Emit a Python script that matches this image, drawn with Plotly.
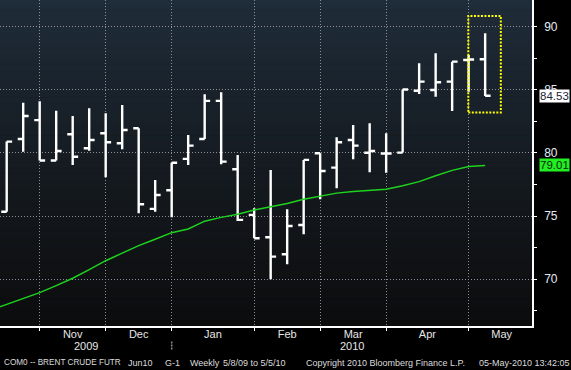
import plotly.graph_objects as go

# ---------------- data (weekly bars, index 0 = last week of Oct 2009) ----------------
weeks = list(range(30))
opens = [75.35, 81.10, 82.60, 79.40, 81.48, 80.37, 81.56, 80.77, 81.96, 75.57,
         77.05, 79.53, 81.10, 84.12, 78.71, 75.10, 73.33, 71.98, 74.30, 79.98,
         78.84, 81.03, 80.02, 79.96, 80.03, 84.93, 84.99, 85.65, 87.36, 87.42]
highs = [80.90, 83.98, 84.10, 83.35, 82.93, 83.54, 83.14, 83.80, 81.96, 77.86,
         79.23, 81.43, 84.65, 84.81, 79.84, 75.62, 78.65, 75.54, 79.45, 79.98,
         81.24, 82.22, 82.35, 81.56, 85.03, 87.10, 87.90, 87.23, 87.76, 89.48]
lows = [75.35, 80.10, 79.40, 79.40, 79.05, 80.18, 78.08, 80.30, 75.23, 75.35,
        74.91, 79.05, 81.10, 79.10, 74.62, 73.25, 70.00, 71.19, 73.56, 76.33,
        77.21, 79.50, 78.47, 78.44, 80.03, 84.67, 84.46, 83.33, 84.85, 84.50]
closes = [80.90, 82.93, 79.40, 80.16, 79.70, 81.03, 80.85, 81.82, 75.94, 76.67,
          79.23, 80.58, 84.12, 79.31, 74.70, 73.25, 71.79, 74.22, 79.45, 78.57,
          80.85, 80.58, 80.16, 79.96, 85.03, 85.65, 85.60, 87.23, 87.40, 84.53]

ma_weeks = list(range(-1, 30))
ma_vals = [67.55, 68.02, 68.49, 68.94, 69.50, 70.08, 70.77, 71.47, 72.07, 72.66,
           73.17, 73.69, 73.98, 74.60, 74.90, 75.15, 75.49, 75.75, 76.00, 76.33,
           76.60, 76.82, 76.95, 77.05, 77.13, 77.40, 77.73, 78.20, 78.62, 78.92, 79.01]

month_start_weeks = [2, 6, 10, 15, 19, 23, 28]
month_mid_weeks = [4, 8, 12.5, 17, 21, 25.5, 30]
month_labels = ["Nov", "Dec", "Jan", "Feb", "Mar", "Apr", "May"]
year_labels = ["2009", "2010"]
year_weeks = [4.8, 20.9]
year_break_week = 10
y_ticks = [70, 75, 80, 85, 90]
last_close = 84.53
last_ma = 79.01
highlight_weeks = [28, 29]

# ---------------- geometry ----------------
W, H = 571, 370
ML, MR, MT, MB = 0, 39, 0, 44
PW, PH = W - ML - MR, H - MT - MB
XR = [-0.406, 31.84]
YR = [66.3, 92.11]
px_x = PW / (XR[1] - XR[0])
px_y = PH / (YR[1] - YR[0])
FONT = "Liberation Sans"

fig = go.Figure()

# background gradient bands
stops = [(0.0, (31, 44, 57)), (0.5, (21, 27, 33)), (1.0, (12, 12, 13))]
def grad(t):
    for (t0, c0), (t1, c1) in zip(stops[:-1], stops[1:]):
        if t0 <= t <= t1:
            f = (t - t0) / (t1 - t0)
            return tuple(round(a + (b - a) * f) for a, b in zip(c0, c1))
    return stops[-1][1]
N = 60
for i in range(N):
    c = grad((i + 0.5) / N)
    fig.add_shape(type="rect", xref="x domain", yref="y domain",
                  x0=0, x1=1, y0=1 - (i + 1) / N, y1=1 - i / N + 0.002,
                  fillcolor=f"rgb{c}", line_width=0, layer="below")

fig.add_trace(go.Scatter(x=ma_weeks, y=ma_vals, mode="lines",
                         line=dict(color="#1ed21e", width=1.5),
                         hoverinfo="skip", showlegend=False))

fig.add_trace(go.Ohlc(x=weeks, open=opens, high=highs, low=lows, close=closes,
                      increasing_line_color="white", decreasing_line_color="white",
                      line_width=2.4, tickwidth=0.33, hoverinfo="skip",
                      showlegend=False))

# axis tick arrows on right axis
fig.add_trace(go.Scatter(x=[XR[1] + 3.2 / px_x] * len(y_ticks), y=y_ticks,
                         mode="markers", cliponaxis=False,
                         marker=dict(symbol="triangle-right", size=7, color="white"),
                         hoverinfo="skip", showlegend=False))
# pointers for value labels
fig.add_trace(go.Scatter(x=[XR[1] + 5.5 / px_x] * 2, y=[last_close, last_ma],
                         mode="markers", cliponaxis=False,
                         marker=dict(symbol="triangle-left", size=9,
                                     color=["white", "#22ee22"]),
                         hoverinfo="skip", showlegend=False))

# highlight box
fig.add_shape(type="rect", xref="x", yref="y",
              x0=highlight_weeks[0] - 0.02, x1=highlight_weeks[1] + 0.95,
              y0=83.2, y1=90.85, line=dict(color="#ffff00", width=2, dash="2px,1.5px"),
              fillcolor="rgba(0,0,0,0)", layer="above")

# year separator
fig.add_shape(type="line", xref="x", yref="paper", x0=year_break_week, x1=year_break_week,
              y0=-15.5 / PH, y1=-23.5 / PH, line=dict(color="#909090", width=1.5, dash="2px,1px"))

annotations = []
annotations.append(dict(xref="paper", yref="y", x=1, y=last_close, xshift=7,
                        xanchor="left", yanchor="middle", text=f"{last_close:.2f}",
                        showarrow=False, bgcolor="white", borderpad=0,
                        font=dict(family=FONT, size=11.5, color="#1a2438")))
annotations.append(dict(xref="paper", yref="y", x=1, y=last_ma, xshift=7,
                        xanchor="left", yanchor="middle", text=f"{last_ma:.2f}",
                        showarrow=False, bgcolor="#22ee22", borderpad=0,
                        font=dict(family=FONT, size=11.5, color="#0a2a0a")))
for lbl, wk in zip(year_labels, year_weeks):
    annotations.append(dict(xref="x", yref="paper", x=wk, y=-20 / PH, text=lbl,
                            showarrow=False, xanchor="center", yanchor="middle",
                            font=dict(family=FONT, size=11, color="#e6e6e6")))
footer = [("COM0 -- BRENT CRUDE FUTR", 2, 8.2), ("Jun10", 125.5, 9), ("G-1", 163, 9),
          ("Weekly", 187.5, 9), ("5/8/09 to 5/5/10", 221, 9),
          ("Copyright 2010 Bloomberg Finance L.P.", 304, 9),
          ("05-May-2010 13:42:05", 476.5, 9)]
for txt, px, fs in footer:
    annotations.append(dict(xref="paper", yref="paper", x=px / PW, y=-36.7 / PH,
                            text=txt, showarrow=False, xanchor="left", yanchor="middle",
                            font=dict(family=FONT, size=fs, color="#dcdcdc")))

grid = dict(showgrid=True, gridcolor="#8a9098", gridwidth=1, griddash="1px,2px")

fig.update_layout(
    width=W, height=H, margin=dict(l=ML, r=MR, t=MT, b=MB),
    paper_bgcolor="black", plot_bgcolor="rgba(0,0,0,0)",
    showlegend=False, annotations=annotations,
    xaxis=dict(range=XR, tickvals=month_start_weeks, showticklabels=False,
               ticks="outside", ticklen=3, tickcolor="white", tickwidth=1,
               showline=True, linecolor="white", linewidth=1.5, zeroline=False,
               rangeslider=dict(visible=False), fixedrange=True, **grid),
    xaxis2=dict(range=XR, overlaying="x", anchor="y", side="bottom",
                tickvals=month_mid_weeks, ticktext=month_labels, ticks="",
                showgrid=False, showline=False, zeroline=False,
                tickfont=dict(family=FONT, size=11, color="#e6e6e6")),
    yaxis=dict(range=YR, side="right", tickvals=y_ticks, ticks="",
               showline=True, linecolor="white", linewidth=1.5, zeroline=False,
               ticklabelstandoff=8,
               tickfont=dict(family=FONT, size=12, color="#e4ecf6"),
               minor=dict(tick0=0, dtick=2.5, ticks="outside", ticklen=3,
                          tickcolor="white", showgrid=False),
               fixedrange=True, **grid),
)
# make sure xaxis2 is drawn
fig.add_trace(go.Scatter(x=[XR[0]], y=[YR[0]], xaxis="x2", mode="markers",
                         marker=dict(opacity=0), hoverinfo="skip", showlegend=False))

fig.write_html("out.html", config={"displayModeBar": False},
               post_script="document.body.style.margin='0';document.body.style.background='black';")
